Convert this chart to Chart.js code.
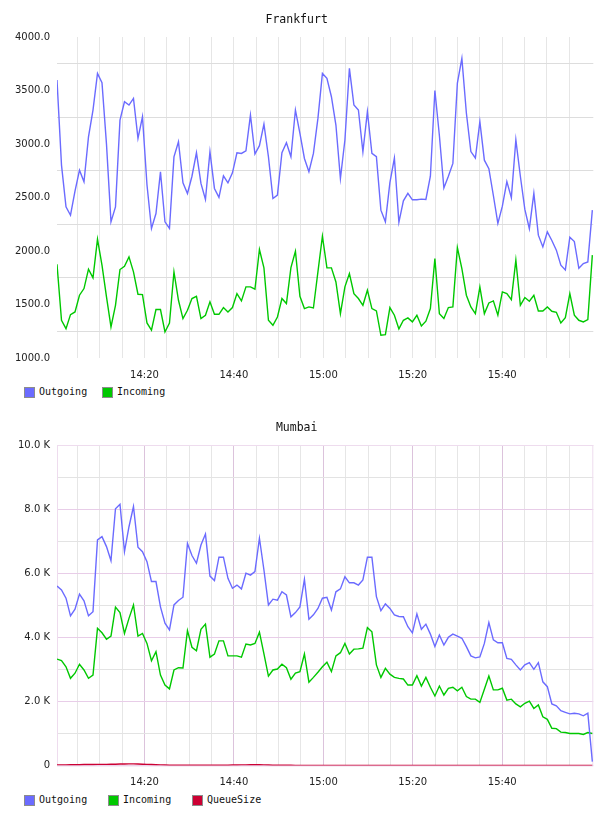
<!DOCTYPE html>
<html>
<head>
<meta charset="utf-8">
<script src="https://cdn.jsdelivr.net/npm/chart.js@4/dist/chart.umd.min.js"></script>
<style>
  body { margin: 0; background: #fff; width: 608px; height: 816px; position: relative; overflow: hidden; }
  canvas { position: absolute; left: 0; }
  .legend { position: absolute; left: 0; width: 608px; height: 12px; font: 10px "DejaVu Sans Mono", monospace; color: #111; }
  .legend .box { position: absolute; top: 0; width: 9px; height: 9px; border: 1px solid #8c8c8c; }
  .legend .txt { position: absolute; top: -1px; line-height: 12px; white-space: nowrap; }
</style>
</head>
<body>
<canvas id="frankfurt" width="608" height="384" style="top:0"></canvas>
<div class="legend" id="legend1" style="top:387px"></div>
<canvas id="mumbai" width="608" height="392" style="top:400px"></canvas>
<div class="legend" id="legend2" style="top:795px"></div>

<script>
// one sample per ~minute, minutes after 14:00
const T0 = 0.44
const STEP = 1.006

const tickLabels = ["14:20", "14:40", "15:00", "15:20", "15:40"]
const labelMinutes = [20, 40, 60, 80, 100]
const gridMinutes = [5, 10, 15, 20, 25, 30, 35, 40, 45, 50, 55, 60, 65, 70, 75, 80, 85, 90, 95, 100, 105, 110, 115]

const seriesNames = ["Outgoing", "Incoming", "QueueSize"]
const seriesColors = ["#6b6bff", "#00c800", "#cc0033"]

const frankfurtOut = [
  3598, 2804, 2414, 2336, 2560, 2757, 2648, 3068, 3318, 3660,
  3573, 3000, 2274, 2414, 3224, 3395, 3364, 3427, 3053, 3255,
  2620, 2212, 2352, 2741, 2274, 2212, 2881, 3022, 2639, 2539,
  2700, 2919, 2633, 2483, 2928, 2586, 2502, 2704, 2639, 2732,
  2919, 2913, 2938, 3271, 2907, 2985, 3187, 2882, 2492, 2524,
  2919, 3013, 2882, 3318, 3100, 2866, 2742, 2913, 3240, 3660,
  3614, 3442, 3178, 2679, 3038, 3707, 3365, 3318, 2928, 3302,
  2913, 2882, 2383, 2274, 2640, 2870, 2270, 2470, 2540, 2480,
  2480, 2486, 2483, 2700, 3500, 3080, 2590, 2700, 2820, 3570,
  3800, 3290, 2930, 2870, 3210, 2850, 2770, 2520, 2260, 2420,
  2650, 2500, 3040, 2700, 2390, 2210, 2540, 2150, 2040, 2180,
  2100, 2010, 1870, 1825, 2130, 2090, 1840, 1885, 1900, 2383
]
const frankfurtIn = [
  1878, 1355, 1277, 1408, 1433, 1589, 1651, 1832, 1751, 2112,
  1869, 1573, 1293, 1495, 1829, 1860, 1947, 1807, 1598, 1595,
  1330, 1262, 1455, 1455, 1246, 1330, 1807, 1542, 1371, 1449,
  1558, 1579, 1371, 1402, 1527, 1411, 1411, 1474, 1433, 1474,
  1604, 1536, 1667, 1667, 1645, 2016, 1844, 1355, 1308, 1386,
  1558, 1511, 1847, 2000, 1579, 1464, 1480, 1470, 1807, 2140,
  1844, 1844, 1713, 1417, 1667, 1791, 1604, 1558, 1495, 1636,
  1464, 1442, 1215, 1221, 1474, 1402, 1275, 1355, 1377, 1340,
  1402, 1302, 1346, 1464, 1931, 1417, 1371, 1474, 1480, 2034,
  1838, 1589, 1480, 1417, 1667, 1417, 1517, 1536, 1402, 1620,
  1604, 1548, 1916, 1495, 1567, 1533, 1589, 1442, 1442, 1480,
  1439, 1430, 1330, 1380, 1604, 1402, 1355, 1340, 1361, 1963
]

const mumbaiOut = [
  5600, 5480, 5220, 4670, 4880, 5350, 5140, 4670, 4800, 7040,
  7140, 6830, 6390, 8010, 8150, 6670, 7450, 8080, 6810, 6670,
  6360, 5740, 5740, 4950, 4440, 4230, 5010, 5150, 5250, 6930,
  6550, 6310, 6880, 7220, 5910, 5770, 6500, 6500, 5840, 5530,
  5630, 5510, 6000, 5940, 6050, 7090, 6100, 5010, 5190, 5160,
  5420, 5320, 4640, 4770, 4950, 5810, 4560, 4700, 4900, 5220,
  5250, 4850, 5420, 5510, 5890, 5700, 5700, 5630, 5790, 6500,
  6500, 5270, 4830, 5040, 4900, 4700, 4650, 4640, 4330, 4140,
  4730, 4250, 4410, 4100, 3710, 4070, 3760, 4000, 4100, 4040,
  3970, 3710, 3420, 3360, 3390, 3810, 4460, 3920, 3830, 3830,
  3340, 3310, 3140, 2980, 3140, 3210, 3000, 3210, 2610, 2460,
  1920, 1860, 1710, 1660, 1610, 1630, 1610, 1550, 1630, 120
]
const mumbaiIn = [
  3320, 3270, 3080, 2720, 2880, 3160, 2980, 2720, 2820, 4280,
  4140, 3940, 4040, 4940, 4770, 4120, 4590, 5010, 4040, 4120,
  3810, 3270, 3550, 2820, 2510, 2390, 2980, 3050, 3040, 4210,
  3690, 3580, 4250, 4410, 3380, 3480, 3890, 3890, 3420, 3420,
  3420, 3380, 3790, 3760, 3810, 4160, 3480, 2790, 2980, 3010,
  3160, 3050, 2690, 2880, 2930, 3480, 2600, 2750, 2910, 3080,
  3220, 2930, 3420, 3520, 3810, 3480, 3630, 3640, 3660, 4300,
  4170, 3140, 2750, 3030, 2850, 2750, 2720, 2700, 2510, 2510,
  2800, 2480, 2750, 2440, 2170, 2480, 2200, 2410, 2440, 2330,
  2440, 2150, 2070, 2070, 1970, 2380, 2790, 2360, 2360, 2410,
  2040, 2070, 1920, 1830, 1940, 2010, 1780, 1890, 1520, 1440,
  1160, 1150, 1040, 1030, 1000, 1000, 1000, 970, 1030, 1000
]
const mumbaiQueue = [
  20, 20, 20, 25, 25, 25, 30, 30, 30, 35,
  35, 35, 40, 40, 45, 45, 50, 50, 45, 40,
  35, 30, 25, 20, 15, 10, 10, 10, 10, 10,
  10, 10, 10, 10, 10, 10, 10, 10, 10, 15,
  15, 20, 20, 25, 25, 25, 20, 15, 10, 10,
  10, 10, 10, 5, 5, 5, 5, 5, 5, 5,
  5, 5, 5, 5, 5, 5, 5, 5, 5, 5,
  5, 5, 5, 5, 5, 5, 5, 5, 5, 5,
  5, 5, 5, 5, 5, 5, 5, 5, 5, 5,
  5, 5, 5, 5, 5, 5, 5, 5, 5, 5,
  5, 5, 5, 5, 5, 5, 5, 5, 5, 5,
  5, 5, 5, 5, 5, 5, 5, 5, 5, 5
]

const tickFont = { family: "DejaVu Sans", size: 10 }
const tickColor = "#222"

function series(values, k) {
  return {
    label: seriesNames[k],
    data: values.map((v, i) => ({ x: T0 + i * STEP, y: v })),
    borderColor: seriesColors[k],
    borderWidth: 1.4,
    pointRadius: 0,
    tension: 0,
    fill: false,
  }
}

const framePlugin = {
  id: "frame",
  beforeDatasetsDraw(chart, args, opts) {
    if (!opts.color) return
    const { ctx, chartArea: a } = chart
    ctx.save()
    ctx.strokeStyle = opts.color
    ctx.lineWidth = 1
    ctx.strokeRect(a.left + 0.5, a.top + 0.5, a.right - a.left - 1, a.bottom - a.top)
    ctx.restore()
  },
}

function makeChart(id, title, datasets, yScale, opts) {
  return new Chart(document.getElementById(id), {
    type: "line",
    data: { datasets },
    plugins: [framePlugin],
    options: {
      responsive: false,
      animation: false,
      layout: { padding: { right: 14.7, left: 0, top: 0, bottom: 0 } },
      plugins: {
        legend: { display: false },
        tooltip: { enabled: false },
        frame: { color: opts.frame },
        title: {
          display: true,
          text: title,
          color: "#111",
          font: { family: "DejaVu Sans Mono", size: 11.5, weight: "normal" },
          padding: opts.titlePad,
        },
      },
      scales: {
        x: {
          type: "linear",
          min: 0.44,
          max: 120.37,
          afterBuildTicks: (s) => {
            s.ticks = gridMinutes.map((v) => ({ value: v }))
          },
          afterFit: (s) => {
            s.height = opts.xHeight
          },
          ticks: {
            autoSkip: false,
            maxRotation: 0,
            padding: opts.xPad,
            color: tickColor,
            font: tickFont,
            callback: (v) => {
              const k = labelMinutes.indexOf(v)
              return k < 0 ? "" : tickLabels[k]
            },
          },
          grid: {
            drawTicks: false,
            color: (c) => (labelMinutes.includes(c.tick.value) ? opts.xMajor : opts.xMinor),
          },
          border: { display: false },
        },
        y: Object.assign(
          {
            afterFit: (s) => {
              s.width = 57
            },
            border: { display: false },
          },
          yScale
        ),
      },
    },
  })
}

makeChart(
  "frankfurt",
  "Frankfurt",
  [series(frankfurtOut, 0), series(frankfurtIn, 1)],
  {
    min: 1000,
    max: 4000,
    ticks: {
      stepSize: 250,
      padding: 7,
      color: tickColor,
      font: tickFont,
      callback: (v) => (v % 500 ? "" : v.toFixed(1)),
    },
    grid: {
      drawTicks: false,
      color: (c) => (c.tick.value % 500 ? "#dddddd" : "rgba(0,0,0,0)"),
    },
  },
  { titlePad: { top: 13.6, bottom: 9.6 }, xHeight: 25.7, xPad: 11, xMajor: "#e6e6e6", xMinor: "#e6e6e6", frame: null }
)

makeChart(
  "mumbai",
  "Mumbai",
  [series(mumbaiOut, 0), series(mumbaiIn, 1), series(mumbaiQueue, 2)],
  {
    min: 0,
    max: 10000,
    ticks: {
      stepSize: 1000,
      padding: 7,
      color: tickColor,
      font: tickFont,
      callback: (v) => (v === 0 ? "0" : v % 2000 ? "" : (v / 1000).toFixed(1) + " K"),
    },
    grid: {
      drawTicks: false,
      color: (c) => (c.tick.value % 2000 ? "#e3e3e3" : "#e8cde8"),
    },
  },
  { titlePad: { top: 21.6, bottom: 9.6 }, xHeight: 26.5, xPad: 11, xMajor: "#dcc3dc", xMinor: "#e6e6e6", frame: "#eedcee" }
)

function makeLegend(id, count, lefts) {
  const el = document.getElementById(id)
  for (let k = 0; k < count; k++) {
    const box = document.createElement("div")
    box.className = "box"
    box.style.left = lefts[k] + "px"
    box.style.background = seriesColors[k]
    const txt = document.createElement("div")
    txt.className = "txt"
    txt.style.left = lefts[k] + 15 + "px"
    txt.textContent = seriesNames[k]
    el.appendChild(box)
    el.appendChild(txt)
  }
}

makeLegend("legend1", 2, [24, 102])
makeLegend("legend2", 3, [24, 108, 192])
</script>
</body>
</html>
